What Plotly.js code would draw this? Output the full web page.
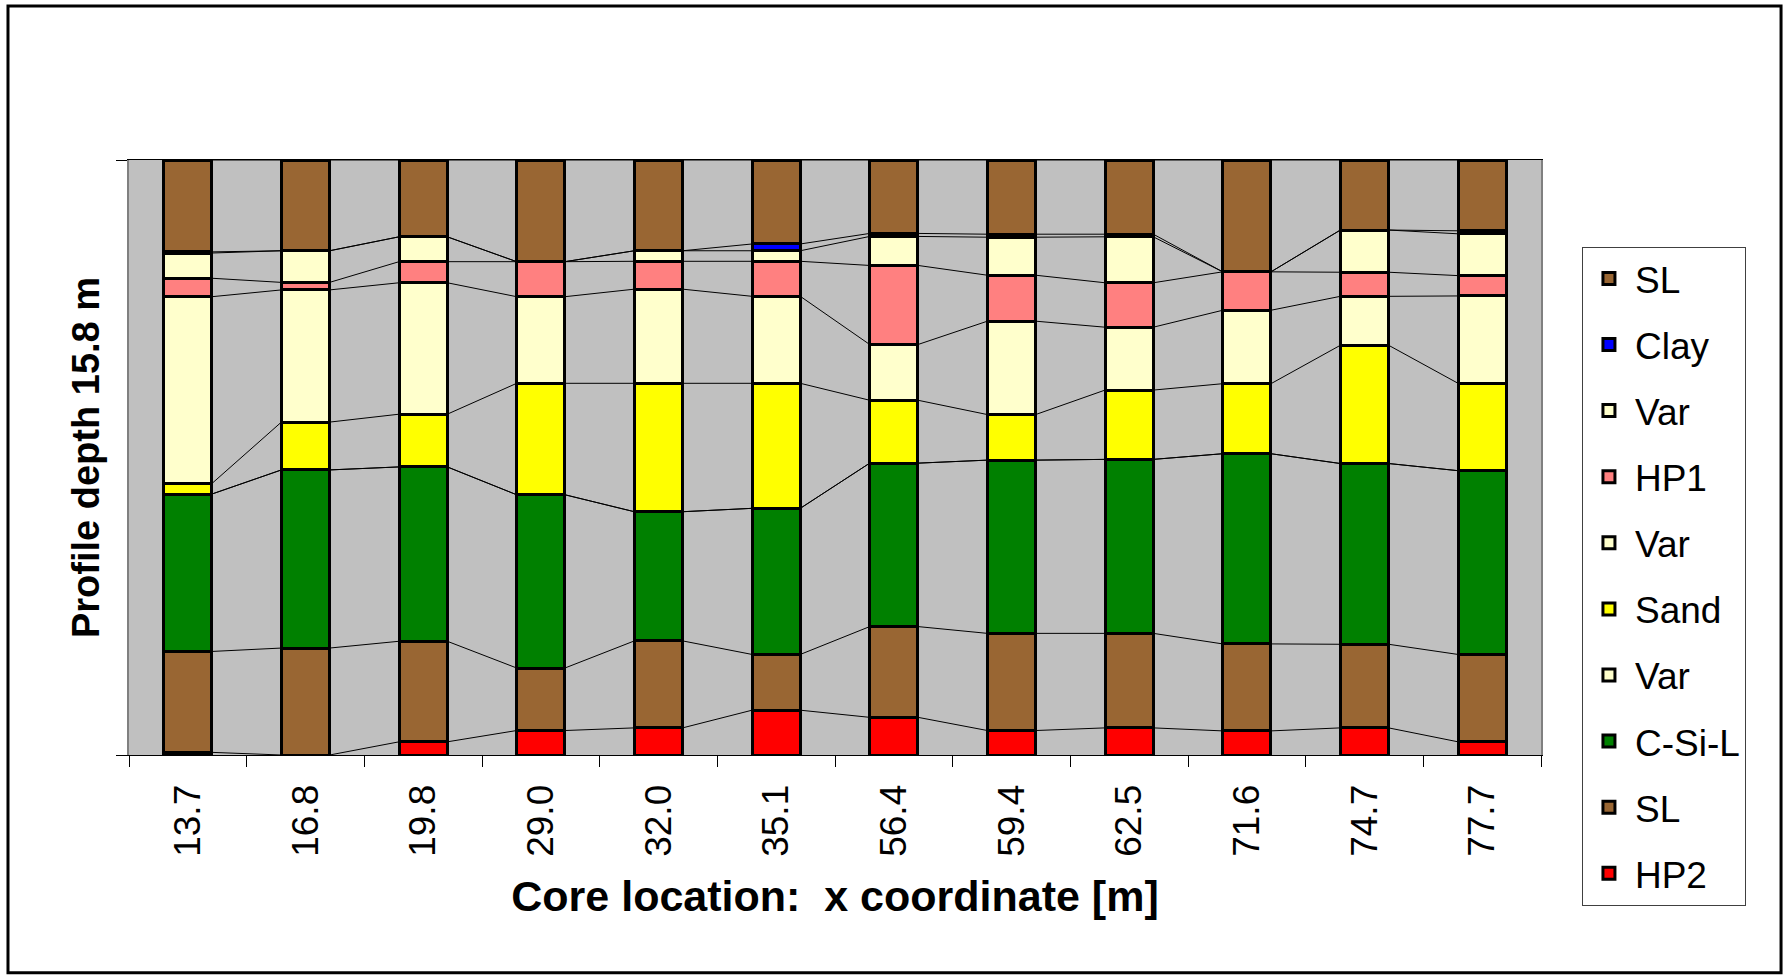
<!DOCTYPE html>
<html><head><meta charset="utf-8">
<script src="https://cdn.plot.ly/plotly-3.0.1.min.js"></script>
<style>html,body{margin:0;padding:0;background:#fff;} #chart{width:1790px;height:976px;}</style>
</head><body><div id="chart"></div>
<script>
// Core locations (x coordinate, m)
const coreX  = ['13.7','16.8','19.8','29.0','32.0','35.1','56.4','59.4','62.5','71.6','74.7','77.7'];
// Layer thicknesses (m), bottom to top of each core
const hp2    = [0.07,0.00,0.35,0.65,0.72,1.19,1.00,0.65,0.72,0.64,0.72,0.35];
const slLow  = [2.68,2.84,2.67,1.66,2.31,1.48,2.41,2.58,2.51,2.31,2.22,2.32];
const csil   = [4.18,4.73,4.63,4.60,3.43,3.88,4.34,4.60,4.62,5.05,4.80,4.88];
const varLow = [0,0,0,0,0,0,0,0,0,0,0,0];
const sand   = [0.28,1.27,1.40,2.96,3.41,3.32,1.67,1.21,1.84,1.86,3.14,2.32];
const varMid = [4.96,3.51,3.49,2.30,2.50,2.31,1.48,2.48,1.67,1.95,1.30,2.32];
const hp1    = [0.49,0.20,0.56,0.93,0.74,0.93,2.10,1.22,1.18,1.02,0.64,0.54];
const varTop = [0.67,0.84,0.66,0.00,0.28,0.28,0.77,1.01,1.22,0.00,1.12,1.11];
const clay   = [0.03,0.00,0.00,0.00,0.00,0.18,0.08,0.08,0.07,0.00,0.00,0.08];
const slTop  = [2.44,2.41,2.04,2.70,2.41,2.23,1.95,1.97,1.97,2.97,1.86,1.88];
const profileDepth = 15.8;

const seriesNames  = ['HP2','SL','C-Si-L','Var','Sand','Var','HP1','Var','Clay','SL'];
const seriesData   = [hp2, slLow, csil, varLow, sand, varMid, hp1, varTop, clay, slTop];
const seriesColors = ['#FF0000','#996633','#008000','#FFFFCC','#FFFF00','#FFFFCC','#FF8080','#FFFFCC','#0000FF','#996633'];

const barWidth = 0.41;
const FONT = 'Liberation Sans, Arial, sans-serif';

const traces = [];
seriesData.forEach((vals, k) => {
  traces.push({
    type: 'bar', x: coreX, y: vals, name: seriesNames[k],
    legendgroup: 'g' + k, legendrank: seriesData.length - k, width: barWidth,
    marker: {color: seriesColors[k], line: {color: '#000', width: 3}},
    hoverinfo: 'name+y'
  });
});

// Series lines joining layer boundaries of neighbouring cores
const lx = [], ly = [];
const cum = new Array(coreX.length).fill(0);
seriesData.forEach(vals => {
  const tops = vals.map((v, i) => cum[i] + v);
  tops.forEach((t, i) => { cum[i] = t; });
  for (let i = 0; i < coreX.length - 1; i++) {
    lx.push(i + barWidth / 2, i + 1 - barWidth / 2, null);
    ly.push(tops[i], tops[i + 1], null);
  }
});
traces.push({
  type: 'scatter', mode: 'lines', x: lx, y: ly, xaxis: 'x2', yaxis: 'y',
  line: {color: '#000', width: 1}, showlegend: false, hoverinfo: 'skip'
});

const layout = {
  width: 1790, height: 976,
  paper_bgcolor: '#FFFFFF', plot_bgcolor: '#C0C0C0',
  margin: {l: 129, r: 249, t: 160, b: 221},
  barmode: 'stack', bargap: 0,
  font: {family: FONT, color: '#000'},
  xaxis: {
    type: 'category', range: [-0.5, coreX.length - 0.5],
    tickson: 'boundaries', ticks: 'outside', ticklen: 11, tickcolor: '#000', tickwidth: 1,
    tickangle: -90, tickfont: {size: 37, family: FONT}, ticklabelstandoff: 14,
    showline: true, linecolor: '#000', linewidth: 1, mirror: true,
    showgrid: false, zeroline: false, automargin: false,
    title: {text: 'Core location:  x coordinate [m]', font: {size: 43, family: FONT, weight: 'bold'}, standoff: 25}
  },
  xaxis2: {overlaying: 'x', range: [-0.5, coreX.length - 0.5], visible: false, fixedrange: true},
  yaxis: {
    range: [0, profileDepth], tickmode: 'array', tickvals: [0, profileDepth],
    ticks: 'outside', ticklen: 11, tickcolor: '#000', showticklabels: false,
    showline: true, linecolor: '#808080', linewidth: 2, mirror: true,
    showgrid: false, zeroline: false, automargin: false,
    title: {text: 'Profile depth 15.8 m', font: {size: 38, family: FONT, weight: 'bold'}, standoff: 5}
  },
  showlegend: true,
  legend: {
    x: 1.029, xanchor: 'left', y: 0.854, yanchor: 'top',
    traceorder: 'grouped', tracegroupgap: 15, maxheight: 720, itemwidth: 42,
    bgcolor: '#FFFFFF', bordercolor: '#404040', borderwidth: 1,
    font: {size: 37, family: FONT}
  },
  shapes: [{
    type: 'rect', xref: 'paper', yref: 'paper',
    x0: -0.0857, x1: 1.170, y0: -0.366, y1: 1.259,
    line: {color: '#000', width: 3}, fillcolor: 'rgba(0,0,0,0)', layer: 'below'
  }]
};

Plotly.newPlot('chart', traces, layout, {displayModeBar: false, staticPlot: true});
</script>
</body></html>
